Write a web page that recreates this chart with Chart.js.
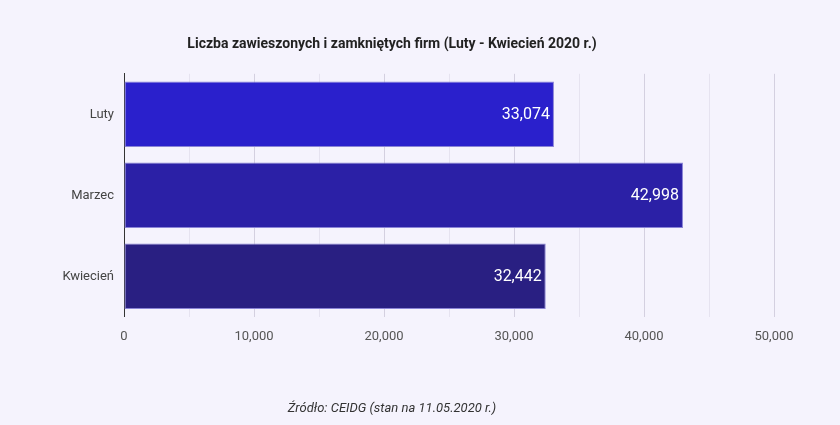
<!DOCTYPE html>
<html>
<head>
<meta charset="utf-8">
<script src="https://cdn.jsdelivr.net/npm/chart.js@4"></script>
<style>
  html, body { margin: 0; padding: 0; background: #f5f3fd; }
  #wrap { width: 840px; height: 425px; }
</style>
</head>
<body>
<div id="wrap"><canvas id="c"></canvas></div>
<script>
const months = ['Luty', 'Marzec', 'Kwiecień'];
const firms = [33074, 42998, 32442];
const barColors = ['#2a20cc', '#2b20a6', '#291f82'];

const fmt = v => v.toLocaleString('en-US');

// napisy z wartościami wewnątrz słupków
const valueLabels = {
    id: 'valueLabels',
    afterDatasetsDraw(chart) {
        const ctx = chart.ctx;
        const meta = chart.getDatasetMeta(0);
        ctx.save();
        ctx.font = '16px Roboto';
        ctx.fillStyle = '#ffffff';
        ctx.textAlign = 'right';
        ctx.textBaseline = 'middle';
        meta.data.forEach((bar, i) => {
            ctx.fillText(fmt(firms[i]), bar.x - 4, bar.y + 1);
        });
        ctx.restore();
    }
};

new Chart(document.getElementById('c'), {
    type: 'bar',
    data: {
        labels: months,
        datasets: [{
            data: firms,
            backgroundColor: barColors,
            borderColor: '#8a84d6',
            borderWidth: 1,
            borderSkipped: false,
            barPercentage: 0.81,
            categoryPercentage: 1
        }]
    },
    options: {
        indexAxis: 'y',
        responsive: true,
        maintainAspectRatio: false,
        animation: false,
        layout: { padding: { left: 10, right: 66, top: 10, bottom: 8 } },
        plugins: {
            legend: { display: false },
            tooltip: { enabled: false },
            title: {
                display: true,
                text: 'Liczba zawieszonych i zamkniętych firm (Luty - Kwiecień 2020 r.)',
                color: '#222',
                font: { family: 'Roboto', size: 14, weight: 'bold' },
                padding: { top: 26, bottom: 21 }
            },
            subtitle: {
                display: true,
                position: 'bottom',
                text: 'Źródło: CEIDG (stan na 11.05.2020 r.)',
                color: '#333',
                font: { family: 'Roboto', size: 13, style: 'italic' },
                padding: { top: 45, bottom: 0 }
            }
        },
        scales: {
            x: {
                min: 0,
                max: 50000,
                ticks: {
                    stepSize: 5000,
                    autoSkip: false,
                    maxRotation: 0,
                    color: '#555',
                    font: { family: 'Roboto', size: 13 },
                    padding: 12,
                    callback: v => (v % 10000 === 0 ? fmt(v) : '')
                },
                grid: {
                    drawTicks: false,
                    color: c => (c.tick && c.tick.value % 10000 === 0 ? '#d4d0e0' : '#e6e3f0')
                },
                border: { display: false }
            },
            y: {
                afterFit: s => { s.width = 114; },
                ticks: {
                    color: '#444',
                    font: { family: 'Roboto', size: 13 },
                    padding: 10
                },
                grid: { display: false, drawTicks: false },
                border: { display: true, color: '#333', width: 1 }
            }
        }
    },
    plugins: [valueLabels]
});
</script>
</body>
</html>
